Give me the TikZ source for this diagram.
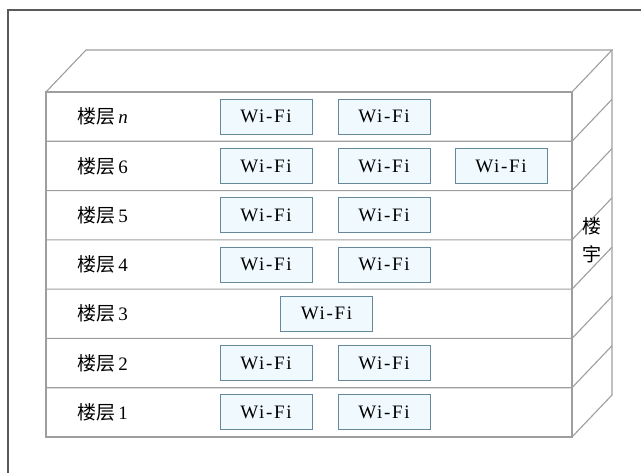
\documentclass[tikz,border=0pt]{standalone}
\usepackage{fontspec}
\setmainfont{Liberation Serif}
\newfontfamily\cjk{Noto Sans CJK SC}
\newfontfamily\wififont[LetterSpace=9]{Liberation Serif}
\begin{document}
\begin{tikzpicture}[x=1pt,y=-1pt,
  frameline/.style={draw=black!65,line width=1.3pt},
  bldline/.style={draw=black!38,line width=1.1pt},
  wifi/.style={draw=cyan!45!black!80,fill=cyan!6,line width=0.9pt,minimum width=92pt,minimum height=35pt,inner sep=0pt,font=\wififont\fontsize{19}{19}\selectfont},
  flabel/.style={anchor=west,inner sep=0pt,font=\fontsize{19}{19}\selectfont}]
\useasboundingbox (0,0) rectangle (641,473);
% outer frame
\coordinate (fa) at (8,473);
\coordinate (fb) at (8,10);
\coordinate (fc) at (641,10);
\draw[frameline] (fa) -- (fb) -- (fc);
% building corners
\coordinate (tl) at (46,92);
\coordinate (tr) at (572,92);
\coordinate (bl) at (46,437);
\coordinate (br) at (572,437);
\coordinate (btl) at (86,50);
\coordinate (btr) at (612,50);
\coordinate (bbr) at (612,395);
\draw[bldline] (tl) -- (btl) -- (btr) -- (tr);
\draw[bldline] (tl) rectangle (br);
\draw[bldline] (btr) -- (bbr) -- (br);
% floors
\foreach \i in {1,...,6}{
  \coordinate (L\i) at (46,{92+\i*49.2857});
  \coordinate (R\i) at (572,{92+\i*49.2857});
  \coordinate (S\i) at (612,{50+\i*49.2857});
  \draw[bldline] (L\i) -- (R\i) -- (S\i);
}
% floor labels
\foreach \lab [count=\k from 0] in {\textit{n},6,5,4,3,2,1}{
  \node[flabel] (lab\k) at (77,{116.6+\k*49.2857}) {{\cjk 楼层}\,\lab};
}
% wifi boxes
\node[wifi] (n1) at (266,116.6) {Wi-Fi};
\node[wifi] (n2) at (384,116.6) {Wi-Fi};
\node[wifi] (s1) at (266,165.9) {Wi-Fi};
\node[wifi] (s2) at (384,165.9) {Wi-Fi};
\node[wifi] (s3) at (501,165.9) {Wi-Fi};
\node[wifi] (f1) at (266,215.2) {Wi-Fi};
\node[wifi] (f2) at (384,215.2) {Wi-Fi};
\node[wifi] (q1) at (266,264.5) {Wi-Fi};
\node[wifi] (q2) at (384,264.5) {Wi-Fi};
\node[wifi] (t1) at (326.5,313.8) {Wi-Fi};
\node[wifi] (w1) at (266,363.1) {Wi-Fi};
\node[wifi] (w2) at (384,363.1) {Wi-Fi};
\node[wifi] (o1) at (266,412.4) {Wi-Fi};
\node[wifi] (o2) at (384,412.4) {Wi-Fi};
% side label
\node[align=center,inner sep=0pt,font=\cjk\fontsize{19}{28}\selectfont] (bld) at (592,240) {楼\\宇};
\end{tikzpicture}
\end{document}
